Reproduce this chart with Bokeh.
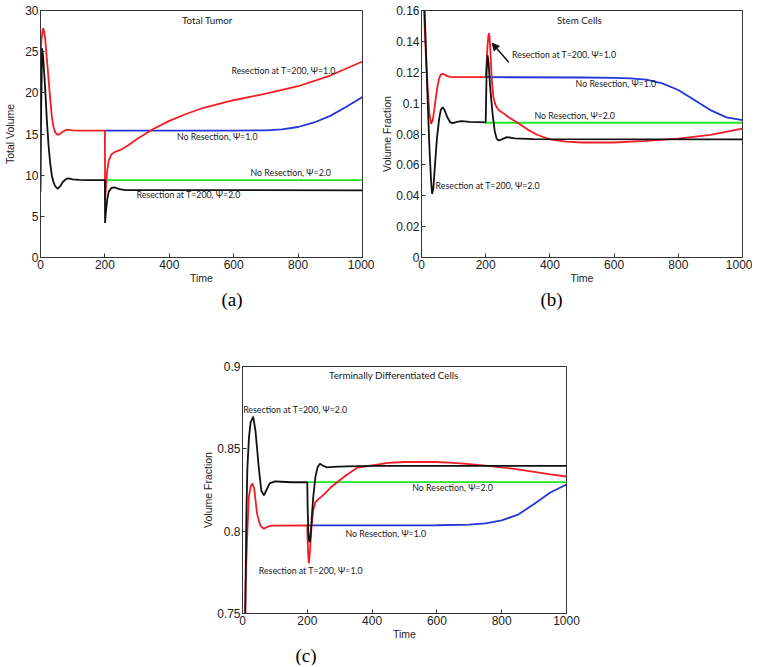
from bokeh.plotting import figure
from bokeh.layouts import column, row, Spacer
from bokeh.models import (FixedTicker, CustomJSTickFormatter, Title,
                          Arrow, NormalHead, Range1d)
from bokeh.core.properties import value
from bokeh.embed import file_html
from bokeh.resources import INLINE

# ---------------- data ----------------
x_ticks = [0, 200, 400, 600, 800, 1000]

# (a) Total Tumor
a_y_ticks = [0, 5, 10, 15, 20, 25, 30]
a_psi1_pre_t = [0, 3, 8, 11, 14.5, 20, 25, 30, 35, 40, 45.5, 53, 60, 70, 80, 87, 100, 120, 150, 200]
a_psi1_pre = [24.0, 26.5, 27.85, 27.5, 26.6, 24.0, 21.7, 19.3, 17.2, 15.9, 15.2, 14.9, 15.0, 15.3, 15.5, 15.5, 15.45, 15.4, 15.4, 15.4]
a_psi2_pre_t = [0, 2, 5, 8, 14.5, 20, 25, 30, 35, 40, 45, 53, 60, 70, 80, 87, 100, 120, 150, 200]
a_psi2_pre = [8.0, 18.0, 25.4, 24.5, 20.5, 16.5, 13.6, 11.5, 10.0, 9.2, 8.7, 8.35, 8.6, 9.2, 9.55, 9.6, 9.5, 9.42, 9.4, 9.4]
a_red_t = [200, 200.5, 203, 207, 212, 220, 230, 250, 275, 300, 350, 400, 450, 500, 600, 700, 800, 900, 1000]
a_red = [15.4, 7.0, 8.3, 10.5, 11.8, 12.5, 12.8, 13.1, 13.7, 14.4, 15.6, 16.6, 17.4, 18.1, 19.1, 19.9, 20.8, 22.1, 23.8]
a_blue_t = [200, 600, 700, 750, 800, 850, 900, 950, 1000]
a_blue = [15.4, 15.4, 15.45, 15.55, 15.85, 16.4, 17.2, 18.3, 19.5]
a_black_t = [200, 200.5, 203, 207, 212, 220, 230, 245, 260, 1000]
a_black = [9.4, 4.2, 5.5, 7.0, 8.0, 8.45, 8.5, 8.3, 8.2, 8.15]
a_green_t = [200, 1000]
a_green = [9.4, 9.4]

# (b) Stem Cells
b_y_ticks = [0, 0.02, 0.04, 0.06, 0.08, 0.1, 0.12, 0.14, 0.16]
b_psi1_pre_t = [0, 5, 10, 15, 20, 25, 30, 35, 40, 45, 50, 55, 60, 66, 72, 80, 90, 100, 130, 200]
b_psi1_pre = [0.22, 0.18, 0.148, 0.125, 0.107, 0.093, 0.0866, 0.089, 0.096, 0.104, 0.111, 0.116, 0.1185, 0.119, 0.1185, 0.1175, 0.117, 0.1168, 0.1168, 0.1168]
b_psi2_pre_t = [0, 5, 10, 15, 20, 25, 30, 33, 37, 42, 48, 55, 60, 66, 72, 80, 90, 98, 110, 125, 150, 200]
b_psi2_pre = [0.25, 0.2, 0.158, 0.128, 0.097, 0.07, 0.049, 0.0413, 0.045, 0.06, 0.077, 0.09, 0.0955, 0.0974, 0.0955, 0.091, 0.0875, 0.087, 0.0878, 0.0884, 0.0879, 0.0875]
b_red_t = [200, 202, 205, 208, 210, 212, 215, 219, 224, 230, 240, 255, 270, 298, 330, 360, 400, 450, 500, 600, 700, 800, 900, 1000]
b_red = [0.1168, 0.122, 0.135, 0.143, 0.1453, 0.143, 0.132, 0.115, 0.104, 0.099, 0.0955, 0.0935, 0.091, 0.0875, 0.083, 0.0795, 0.0765, 0.075, 0.0745, 0.0745, 0.0755, 0.077, 0.0795, 0.0835]
b_blue_t = [200, 500, 600, 650, 700, 750, 800, 850, 900, 950, 1000]
b_blue = [0.1168, 0.1166, 0.1163, 0.116, 0.1152, 0.1128, 0.1085, 0.102, 0.0955, 0.0908, 0.089]
b_black_t = [200, 201, 203, 206, 209, 213, 217, 222, 228, 234, 240, 250, 266, 290, 350, 1000]
b_black = [0.0875, 0.1, 0.122, 0.131, 0.126, 0.113, 0.103, 0.092, 0.082, 0.077, 0.0758, 0.0765, 0.078, 0.0772, 0.0767, 0.0765]
b_green_t = [200, 1000]
b_green = [0.0873, 0.0873]

# (c) Terminally Differentiated Cells
c_y_ticks = [0.75, 0.8, 0.85, 0.9]
c_psi1_pre_t = [0, 5, 10, 14, 19.5, 25, 30, 36, 45, 55, 66, 78, 90, 200]
c_psi1_pre = [0.6, 0.7, 0.77, 0.795, 0.8206, 0.827, 0.829, 0.826, 0.8105, 0.8035, 0.8014, 0.8028, 0.8034, 0.8035]
c_psi2_pre_t = [0, 5, 9, 12, 15, 20, 25, 33, 40, 46, 50, 58, 66, 74, 84, 100, 120, 150, 200]
c_psi2_pre = [0.6, 0.7, 0.76, 0.81, 0.838, 0.857, 0.866, 0.8696, 0.861, 0.848, 0.839, 0.8247, 0.8217, 0.825, 0.829, 0.8302, 0.83, 0.8297, 0.8297]
c_red_t = [200, 201, 203, 205, 208, 212, 218, 225, 232, 241, 255, 275, 292, 320, 354, 390, 450, 500, 550, 600, 650, 700, 750, 800, 850, 900, 950, 1000]
c_red = [0.8035, 0.795, 0.785, 0.7806, 0.787, 0.8, 0.8126, 0.8176, 0.819, 0.8205, 0.823, 0.827, 0.8297, 0.834, 0.8385, 0.8397, 0.8415, 0.842, 0.8421, 0.842, 0.8415, 0.8407, 0.8398, 0.8388, 0.8375, 0.836, 0.8345, 0.8332]
c_blue_t = [200, 600, 700, 750, 800, 850, 900, 950, 1000]
c_blue = [0.8035, 0.8036, 0.804, 0.8047, 0.8065, 0.81, 0.8165, 0.8235, 0.8283]
c_black_t = [200, 201, 203, 205, 207, 210, 218, 225, 232, 239, 248, 260, 280, 320, 400, 1000]
c_black = [0.8297, 0.815, 0.8, 0.795, 0.7933, 0.797, 0.82, 0.833, 0.839, 0.841, 0.8398, 0.8388, 0.839, 0.8393, 0.8397, 0.8397]
c_green_t = [200, 1000]
c_green = [0.8298, 0.8298]

LBL_R1 = "Resection at T=200, \u03a8=1.0"
LBL_R2 = "Resection at T=200, \u03a8=2.0"
LBL_N1 = "No Resection, \u03a8=1.0"
LBL_N2 = "No Resection, \u03a8=2.0"

# ---------------- styling helpers ----------------
RED = "#f21c24"
BLUE = "#2436d8"
GREEN = "#22e622"
BLACK = "#111111"
TICK_FONT = "Liberation Sans"
NOTE_FONT = "Lato"

fmt = CustomJSTickFormatter(code="return String(parseFloat(tick.toFixed(4)));")


def make_panel(width, height, borders, yr, yticks, ylabel, ylabel_standoff, caption, cap_offset):
    left, right, top, bottom = borders
    p = figure(width=width, height=height, output_backend="svg", toolbar_location=None,
               x_range=Range1d(0, 1000), y_range=Range1d(*yr),
               min_border_left=left, min_border_right=right,
               min_border_top=top, min_border_bottom=bottom)
    p.grid.visible = False
    p.outline_line_color = "#333333"
    p.outline_line_width = 1
    for ax, ticks in ((p.xaxis[0], x_ticks), (p.yaxis[0], yticks)):
        ax.ticker = FixedTicker(ticks=ticks)
        ax.formatter = fmt
        ax.major_tick_in = 4
        ax.major_tick_out = 0
        ax.minor_tick_line_color = None
        ax.axis_line_color = "#333333"
        ax.major_tick_line_color = "#333333"
        ax.major_label_text_font = TICK_FONT
        ax.major_label_text_font_size = "12px"
        ax.major_label_text_color = "#222222"
        ax.major_label_standoff = 2
        ax.axis_label_text_font = TICK_FONT
        ax.axis_label_text_font_size = "10.5px"
        ax.axis_label_text_font_style = "normal"
        ax.axis_label_text_color = "#222222"
        ax.axis_label_standoff = 0
    p.yaxis[0].axis_label_standoff = ylabel_standoff
    p.xaxis.axis_label = "Time"
    p.yaxis.axis_label = ylabel
    p.add_layout(Title(text=caption, align="left", offset=cap_offset,
                       text_font="Liberation Serif", text_font_size="19px",
                       text_font_style="normal", text_color="#000000", standoff=0), "below")
    return p


def draw_curves(p, pre1_t, pre1, pre2_t, pre2, red_t, red, blue_t, blue, black_t, black, green_t, green):
    lw = 1.8
    # the no-resection curves coincide with the resection curves before T=200
    p.line(blue_t, blue, line_color=BLUE, line_width=lw)
    p.line(green_t, green, line_color=GREEN, line_width=lw)
    p.line(pre1_t + red_t, pre1 + red, line_color=RED, line_width=lw)
    p.line(pre2_t + black_t, pre2 + black, line_color=BLACK, line_width=lw)


def notes(p, xs, ys, texts, align="left", size="8.8px"):
    p.text(x=xs, y=ys, text=texts, text_font=value(NOTE_FONT), text_font_size=size,
           text_align=align, text_baseline="middle", text_color="#1a1a1a")


# ---------------- panel (a) ----------------
pa = make_panel(374, 356, (40, 12, 10, 99), (0, 30), a_y_ticks, "Total Volume", 6, "(a)", 181)
draw_curves(pa, a_psi1_pre_t, a_psi1_pre, a_psi2_pre_t, a_psi2_pre, a_red_t, a_red,
            a_blue_t, a_blue, a_black_t, a_black, a_green_t, a_green)
notes(pa, [518], [28.9], ["Total Tumor"], align="center", size="9.8px")
notes(pa, [593, 424, 652, 298], [22.7, 14.7, 10.3, 7.7], [LBL_R1, LBL_N1, LBL_N2, LBL_R2])

# ---------------- panel (b) ----------------
pb = make_panel(378, 356, (47, 10, 10, 99), (0, 0.16), b_y_ticks, "Volume Fraction", 0, "(b)", 119)
draw_curves(pb, b_psi1_pre_t, b_psi1_pre, b_psi2_pre_t, b_psi2_pre, b_red_t, b_red,
            b_blue_t, b_blue, b_black_t, b_black, b_green_t, b_green)
notes(pb, [492], [0.154], ["Stem Cells"], align="center", size="9.8px")
notes(pb, [282, 480, 352, 44], [0.1315, 0.1129, 0.092, 0.0466], [LBL_R1, LBL_N1, LBL_N2, LBL_R2])
pb.add_layout(Arrow(end=NormalHead(size=7, fill_color=BLACK, line_color=BLACK),
                    x_start=272, y_start=0.1265, x_end=220, y_end=0.1388,
                    line_color=BLACK, line_width=1.5))

# ---------------- panel (c) ----------------
pc = make_panel(396, 309, (52, 20, 10, 52), (0.75, 0.9), c_y_ticks, "Volume Fraction", 0, "(c)", 53)
draw_curves(pc, c_psi1_pre_t, c_psi1_pre, c_psi2_pre_t, c_psi2_pre, c_red_t, c_red,
            c_blue_t, c_blue, c_black_t, c_black, c_green_t, c_green)
notes(pc, [467], [0.895], ["Terminally Differentiated Cells"], align="center", size="9.8px")
notes(pc, [2, 524, 318, 50], [0.8737, 0.8267, 0.7988, 0.7761], [LBL_R2, LBL_N2, LBL_N1, LBL_R1])

layout = column(row(pa, pb), row(Spacer(width=190, height=309), pc))

open("out.html", "w", encoding="utf-8").write(file_html(layout, INLINE))
